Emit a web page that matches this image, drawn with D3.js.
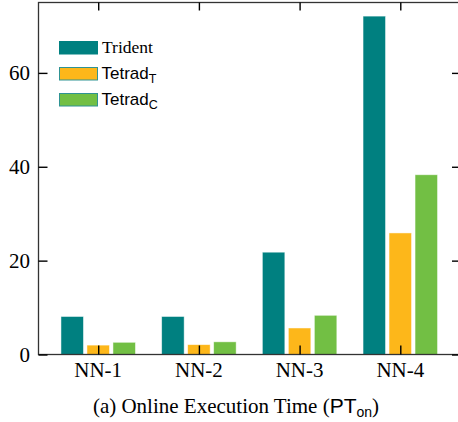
<!DOCTYPE html>
<html>
<head>
<meta charset="utf-8">
<script src="https://cdn.jsdelivr.net/npm/d3@7"></script>
<style>
  html, body { margin: 0; padding: 0; background: #fff; }
  svg { display: block; }
</style>
</head>
<body>
<svg id="chart" width="458" height="422"></svg>
<script>
// ---- data ----
const categories = ["NN-1", "NN-2", "NN-3", "NN-4"];
const seriesNames = ["Trident", "TetradT", "TetradC"];
const trident = [8.1, 8.1, 21.8, 72.1];
const tetradT = [2.0, 2.1, 5.65, 25.9];
const tetradC = [2.6, 2.7, 8.35, 38.3];
const yTicks = [0, 20, 40, 60];
const colors = ["#008080", "#FDB71A", "#72BF44"];

const seriesValues = [trident, tetradT, tetradC];

const svg = d3.select("#chart");
const pL = 38.5, pR = 460, pT = 2.5, pB = 354.5;

const x0 = d3.scaleBand().domain(categories).range([pL, pR])
  .paddingInner(0).paddingOuter(0.093);
const x1 = d3.scaleBand().domain(seriesNames).range([-39, 39])
  .paddingInner(0.135).paddingOuter(0.0675);
const y = d3.scaleLinear().domain([0, 75]).range([pB, pT]);

// bars
const groups = svg.append("g").selectAll("g")
  .data(categories).join("g")
  .attr("transform", d => `translate(${x0(d) + x0.bandwidth() / 2},0)`);

groups.selectAll("rect")
  .data((c, i) => seriesNames.map((s, j) => ({ s, j, v: seriesValues[j][i] })))
  .join("rect")
  .attr("x", d => x1(d.s))
  .attr("width", x1.bandwidth())
  .attr("y", d => y(d.v))
  .attr("height", d => y(0) - y(d.v))
  .attr("fill", d => colors[d.j])
  .attr("stroke", "#ffffff")
  .attr("stroke-opacity", 0.6)
  .attr("stroke-width", 0.8);

// frame
svg.append("rect")
  .attr("x", pL).attr("y", pT)
  .attr("width", pR - pL).attr("height", pB - pT)
  .attr("fill", "none").attr("stroke", "#333").attr("stroke-width", 1.3);

const xc = d => x0(d) + x0.bandwidth() / 2;

// left axis (ticks inward)
const yAxisL = d3.axisRight(y).tickValues(yTicks).tickSize(9).tickFormat("");
svg.append("g").attr("transform", `translate(${pL},0)`).call(yAxisL)
  .call(g => g.select(".domain").remove())
  .call(g => g.selectAll("line").attr("stroke", "#000").attr("stroke-width", 1.4));
// left labels
svg.append("g").selectAll("text").data(yTicks).join("text")
  .attr("x", 30).attr("y", d => y(d)).attr("dy", "0.35em")
  .attr("text-anchor", "end")
  .attr("font-family", "Liberation Serif, serif").attr("font-size", 21)
  .text(d => d);

// right axis ticks inward
const yAxisR = d3.axisLeft(y).tickValues(yTicks).tickSize(8).tickFormat("");
svg.append("g").attr("transform", `translate(${pR},0)`).call(yAxisR)
  .call(g => g.select(".domain").remove())
  .call(g => g.selectAll("line").attr("stroke", "#000").attr("stroke-width", 1.4));

// bottom axis ticks inward
const xAxisB = d3.axisTop(d3.scalePoint().domain(categories).range([xc(categories[0]), xc(categories[3])]))
  .tickSize(9).tickFormat("");
svg.append("g").attr("transform", `translate(0,${pB})`).call(xAxisB)
  .call(g => g.select(".domain").remove())
  .call(g => g.selectAll("line").attr("stroke", "#000").attr("stroke-width", 1.4));
// top axis ticks inward
const xAxisT = d3.axisBottom(d3.scalePoint().domain(categories).range([xc(categories[0]), xc(categories[3])]))
  .tickSize(8).tickFormat("");
svg.append("g").attr("transform", `translate(0,${pT})`).call(xAxisT)
  .call(g => g.select(".domain").remove())
  .call(g => g.selectAll("line").attr("stroke", "#000").attr("stroke-width", 1.4));

// category labels
svg.append("g").selectAll("text").data(categories).join("text")
  .attr("x", d => xc(d)).attr("y", 377)
  .attr("text-anchor", "middle")
  .attr("font-family", "Liberation Serif, serif").attr("font-size", 21)
  .text(d => d);

// legend
const legY = [41, 67, 93];
const leg = svg.append("g");
seriesNames.forEach((s, i) => {
  leg.append("rect")
    .attr("x", 59.5).attr("y", legY[i] + 0.5)
    .attr("width", 38).attr("height", 12.5)
    .attr("fill", colors[i])
    .attr("stroke", i === 0 ? colors[0] : "#2f9393")
    .attr("stroke-width", 1);
});
leg.append("text").attr("x", 102).attr("y", 53)
  .attr("font-family", "Liberation Serif, serif").attr("font-size", 17.5)
  .text("Trident");
const lt = leg.append("text").attr("x", 101.5).attr("y", 79)
  .attr("font-family", "Liberation Sans, Arial, sans-serif").attr("font-size", 17);
lt.append("tspan").text("Tetrad");
lt.append("tspan").attr("font-size", 12.5).attr("dy", 4).text("T");
const lc = leg.append("text").attr("x", 101.5).attr("y", 105)
  .attr("font-family", "Liberation Sans, Arial, sans-serif").attr("font-size", 17);
lc.append("tspan").text("Tetrad");
lc.append("tspan").attr("font-size", 12.5).attr("dy", 4).text("C");

// caption
const cap = svg.append("text").attr("x", 236).attr("y", 413)
  .attr("text-anchor", "middle")
  .attr("font-family", "Liberation Serif, serif").attr("font-size", 21);
cap.append("tspan").text("(a) Online Execution Time (");
cap.append("tspan").attr("font-family", "Liberation Sans, Arial, sans-serif").text("PT");
cap.append("tspan").attr("font-family", "Liberation Sans, Arial, sans-serif")
  .attr("font-size", 14).attr("dy", 4).text("on");
cap.append("tspan").attr("dy", -4).text(")");
</script>
</body>
</html>
